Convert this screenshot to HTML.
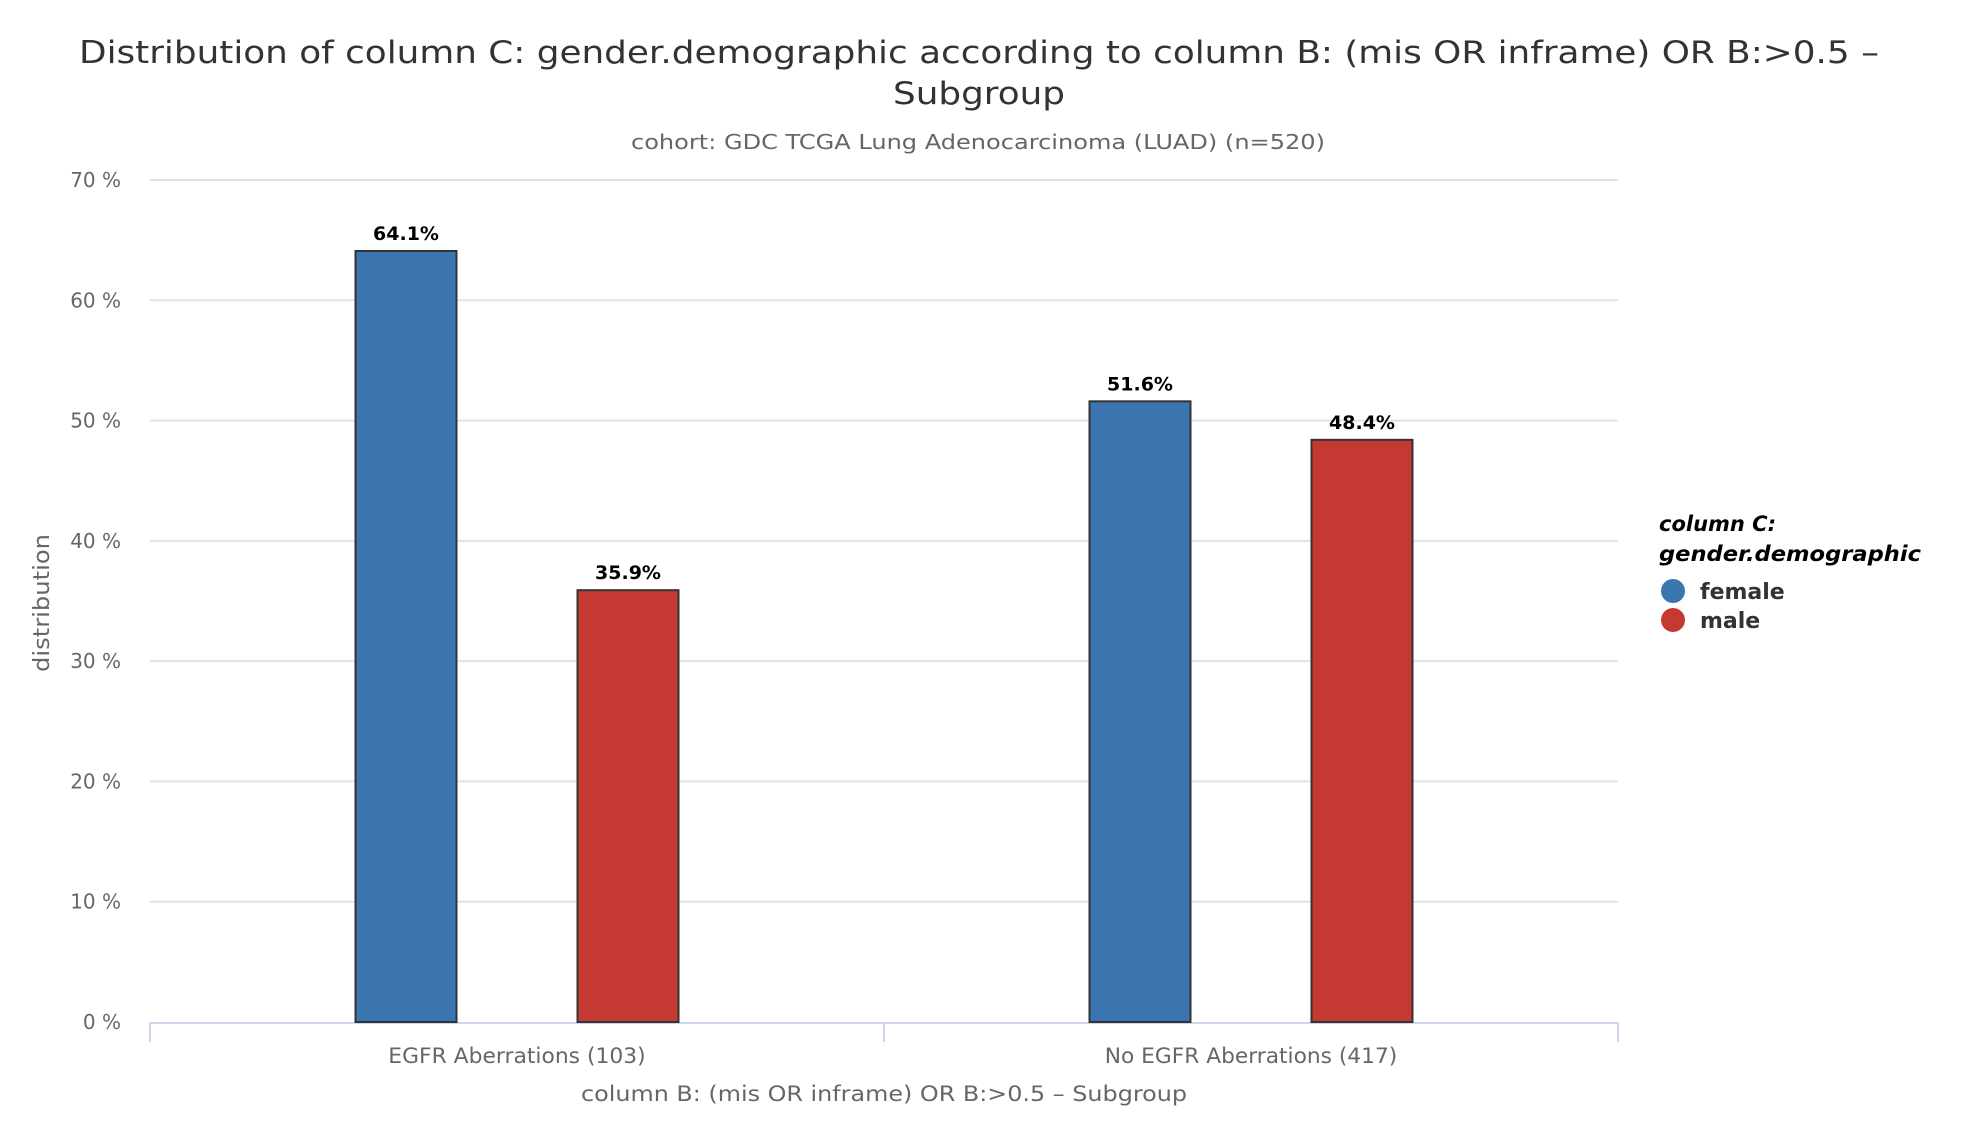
<!DOCTYPE html>
<html><head><meta charset="utf-8"><style>
html,body{margin:0;padding:0;background:#fff;}
svg{display:block;font-family:"DejaVu Sans","Liberation Sans",sans-serif;}
</style></head><body>
<svg id="chart" width="1982" height="1126" viewBox="0 0 1982 1126">
<text x="979" y="63" text-anchor="middle" font-size="31" fill="#333" textLength="1800" lengthAdjust="spacingAndGlyphs">Distribution of column C: gender.demographic according to column B: (mis OR inframe) OR B:&gt;0.5 –</text>
<text x="979" y="104" text-anchor="middle" font-size="31" fill="#333" textLength="172" lengthAdjust="spacingAndGlyphs">Subgroup</text>
<text x="978" y="149" text-anchor="middle" font-size="20" fill="#666" textLength="694" lengthAdjust="spacingAndGlyphs">cohort: GDC TCGA Lung Adenocarcinoma (LUAD) (n=520)</text>
<g id="grid"></g>
<g id="bars"></g>
<text transform="translate(49,603) rotate(-90)" text-anchor="middle" font-size="22" fill="#666" textLength="138" lengthAdjust="spacingAndGlyphs">distribution</text>
<text x="884" y="1101" text-anchor="middle" font-size="21" fill="#666" textLength="606" lengthAdjust="spacingAndGlyphs">column B: (mis OR inframe) OR B:&gt;0.5 – Subgroup</text>
<g>
<text x="1659" y="531" font-size="21" font-weight="bold" font-style="italic" fill="#000">column C:</text>
<text x="1659" y="561" font-size="21" font-weight="bold" font-style="italic" fill="#000" textLength="262" lengthAdjust="spacingAndGlyphs">gender.demographic</text>
<g id="legend-items"></g>
</g>
</svg>
<script>
const categories = ["EGFR Aberrations (103)", "No EGFR Aberrations (417)"];
const seriesNames = ["female", "male"];
const femaleValues = [64.1, 51.6];
const maleValues = [35.9, 48.4];
const yTicks = [0, 10, 20, 30, 40, 50, 60, 70];
const colors = ["#3a75af", "#c43a33"];

const NS = "http://www.w3.org/2000/svg";
const left = 150, right = 1618, y0 = 1022, yTop = 180, yMax = 70;
function yScale(v){ return y0 - (v / yMax) * (y0 - yTop); }
const catW = (right - left) / categories.length;
function catCenter(i){ return left + catW * (i + 0.5); }
function mk(tag, attrs, parent){ const e = document.createElementNS(NS, tag); for (const k in attrs) e.setAttribute(k, attrs[k]); parent.appendChild(e); return e; }

const grid = document.getElementById("grid");
yTicks.forEach(t => {
  const y = yScale(t);
  if (t > 0) {
    const l = mk("line", {x1: left, x2: right, y1: y, y2: y, stroke: "#e3e3e3", "stroke-width": 2}, grid);
    
    
  }
  const tx = mk("text", {x: 121, y: y + 7, "text-anchor": "end", "font-size": 20, fill: "#666"}, grid);
  tx.textContent = t + " %";
  
  
});
const axis = mk("line", {x1: left, x2: right, y1: y0 + 1, y2: y0 + 1, stroke: "#ccd6eb", "stroke-width": 2}, grid);


for (let i = 0; i <= categories.length; i++) {
  const x = left + catW * i;
  const tk = mk("line", {x1: x, x2: x, y1: y0, y2: y0 + 20, stroke: "#ccd6eb", "stroke-width": 2}, grid);
  
  
}
categories.forEach((c, i) => {
  const tx = mk("text", {x: catCenter(i), y: y0 + 41, "text-anchor": "middle", "font-size": 21, fill: "#666"}, grid);
  tx.textContent = c;
  tx.setAttribute('textLength', c.length * 11.7);
  tx.setAttribute('lengthAdjust', 'spacingAndGlyphs');
  
  
});

const bars = document.getElementById("bars");
const series = [femaleValues, maleValues];
const barW = 101, offset = 111;
series.forEach((vals, s) => {
  vals.forEach((v, i) => {
    const cx = catCenter(i) + (s === 0 ? -offset : offset);
    const y = yScale(v);
    const r = mk("rect", {x: cx - barW / 2, y: y, width: barW, height: y0 - y, fill: colors[s], stroke: "#333", "stroke-width": 2}, bars);
    
    
    const lb = mk("text", {x: cx, y: y - 11, "text-anchor": "middle", "font-size": 19, "font-weight": "bold", fill: "#000"}, bars);
    lb.textContent = v.toFixed(1) + "%";
    
    
  });
});

const li = document.getElementById("legend-items");
seriesNames.forEach((n, s) => {
  const cy = 591 + s * 29;
  const c = mk("circle", {cx: 1673, cy: cy, r: 12, fill: colors[s]}, li);
  
  
  const t = mk("text", {x: 1700, y: cy + 8, "font-size": 22, "font-weight": "bold", fill: "#333"}, li);
  t.textContent = n;
  
  
});
</script>
</body></html>
